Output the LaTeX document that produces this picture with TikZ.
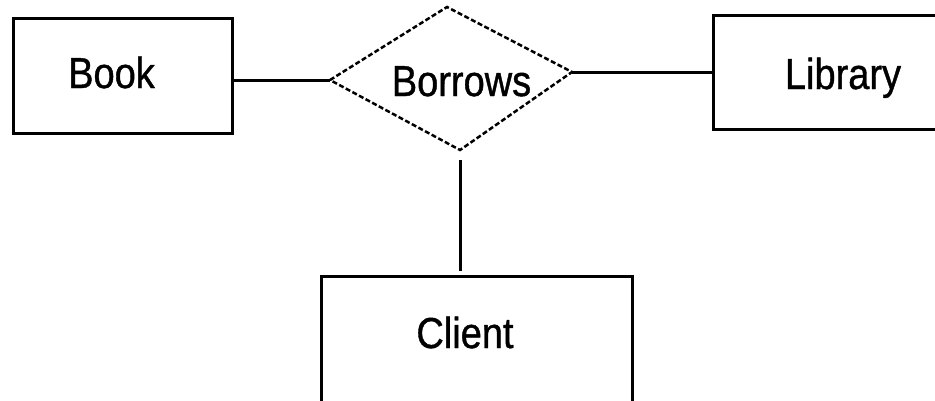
\documentclass[tikz,border=0pt]{standalone}
\usepackage{fontspec}
\setmainfont{Liberation Sans}[FakeBold=1.0]
\newcommand\tallText[1]{\scalebox{1}[1.14]{#1}}
\begin{document}
\begin{tikzpicture}[x=1pt,y=-1pt,
  entity/.style={draw, line width=3pt, inner sep=0pt, outer sep=0pt},
  lbl/.style={font=\fontsize{38}{42}\selectfont, inner sep=0pt, anchor=base},
  conn/.style={line width=3pt},
  relshape/.style={line width=2.5pt, dash pattern=on 5pt off 2.5pt}]
\useasboundingbox (0,0) rectangle (935,400);
\clip (0,0) rectangle (935,400);
% entities
\node[entity, minimum width=219pt, minimum height=115pt] (book) at (122.5,75.5) {};
\node[entity, minimum width=237pt, minimum height=114pt] (library) at (831.5,72) {};
\node[entity, minimum width=311pt, minimum height=128pt] (client) at (476.5,340) {};
% relationship diamond
\coordinate (dl) at (330,80);
\coordinate (dt) at (447,7);
\coordinate (dr) at (572,72);
\coordinate (db) at (460,150);
\draw[relshape] (dl) -- (dt) -- (dr) -- (db) -- cycle;
% labels
\node[lbl] (booktext) at (111.5,88) {\tallText{Book}};
\node[lbl] (librarytext) at (843,89) {\tallText{Library}};
\node[lbl] (clienttext) at (465,348) {\tallText{Client}};
\node[lbl] (borrowstext) at (461.5,96) {\tallText{Borrows}};
% connectors
\draw[conn] (book.east |- dl) -- (dl);
\draw[conn] (dr) -- (library.west |- dr);
\coordinate (cs) at (460,160);
\draw[conn, shorten >=5pt] (cs) -- (cs |- client.north);
\end{tikzpicture}
\end{document}
